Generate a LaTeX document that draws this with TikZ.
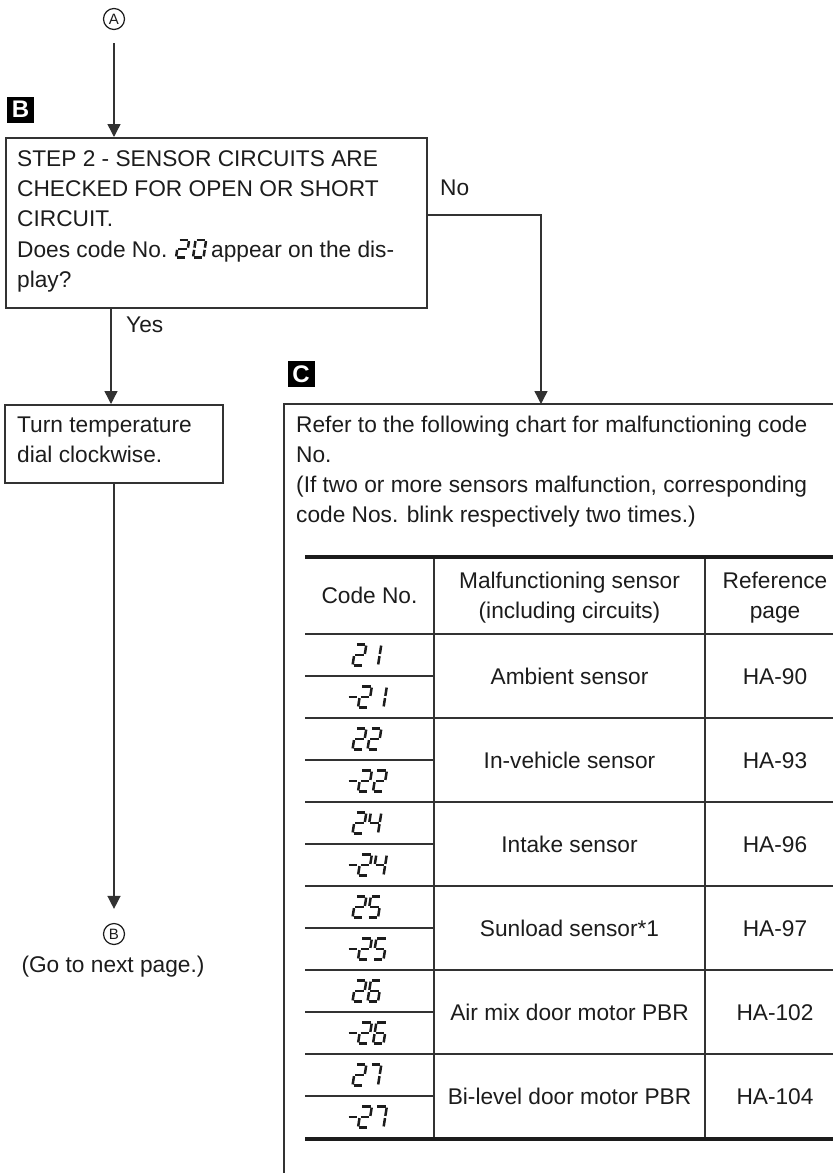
\documentclass[tikz,border=0pt]{standalone}
\usepackage{fontspec}
\setmainfont{Liberation Sans}
\usetikzlibrary{arrows.meta}
\definecolor{ink}{RGB}{28,28,28}
\definecolor{rulec}{RGB}{50,50,50}

\tikzset{
 txt/.style={inner sep=0pt, anchor=base west, text=ink, font=\fontsize{22.7}{27}\selectfont},
 ctxt/.style={txt, anchor=base},
 boxline/.style={draw=rulec, line width=1.6pt, inner sep=0pt},
 arr/.style={draw=rulec, line width=1.4pt, -{Triangle[width=13pt,length=13pt]}},
 tline/.style={draw=rulec, line width=1.3pt},
 trule/.style={draw=ink, line width=3.6pt},
 lcdline/.style={draw=ink, line width=2.5pt},
 marker/.style={fill=black, text=white, inner sep=0pt, minimum width=27pt, minimum height=26pt, font=\fontsize{24}{24}\selectfont\bfseries},
 circ/.style={circle, draw=ink, line width=1.2pt, minimum size=21pt, inner sep=0pt, font=\fontsize{15}{15}\selectfont, text=ink},
}

% seven-segment digits
\def\lcdw{10}\def\lcdh{21}\def\lcdp{15}\def\lcdg{1.1}\def\lcds{0.17}
\newcommand\lcdparams[4]{\def\lcdw{#1}\def\lcdh{#2}\def\lcdp{#3}\def\lcds{#4}}
\newcommand\lcdA{\draw[lcdline] (\lcdg,\lcdh)--({\lcdw-\lcdg},\lcdh);}
\newcommand\lcdB{\draw[lcdline] (\lcdw,{\lcdh-\lcdg})--(\lcdw,{\lcdh/2+\lcdg});}
\newcommand\lcdC{\draw[lcdline] (\lcdw,{\lcdh/2-\lcdg})--(\lcdw,\lcdg);}
\newcommand\lcdD{\draw[lcdline] (\lcdg,0)--({\lcdw-\lcdg},0);}
\newcommand\lcdE{\draw[lcdline] (0,\lcdg)--(0,{\lcdh/2-\lcdg});}
\newcommand\lcdF{\draw[lcdline] (0,{\lcdh/2+\lcdg})--(0,{\lcdh-\lcdg});}
\newcommand\lcdG{\draw[lcdline] (\lcdg,{\lcdh/2})--({\lcdw-\lcdg},{\lcdh/2});}
\newcommand\lcddigit[1]{\ifcase#1\relax
 \lcdA\lcdB\lcdC\lcdD\lcdE\lcdF\or
 \lcdB\lcdC\or
 \lcdA\lcdB\lcdG\lcdE\lcdD\or
 \lcdA\lcdB\lcdG\lcdC\lcdD\or
 \lcdF\lcdG\lcdB\lcdC\or
 \lcdA\lcdF\lcdG\lcdC\lcdD\or
 \lcdA\lcdF\lcdG\lcdE\lcdC\lcdD\or
 \lcdA\lcdB\lcdC\fi}
\newcommand\lcdat[4]{%
 \begin{scope}[shift={(#1,{#2})}, x=1pt, y=1pt, xslant=\lcds]
  \ifnum#4=1 \draw[lcdline] (-11,{\lcdh/2})--(-2.5,{\lcdh/2});\fi
  \foreach \lcdd [count=\lcdi from 0] in {#3}{%
   \begin{scope}[xshift=\lcdi*\lcdp]\lcddigit{\lcdd}\end{scope}}
 \end{scope}}

\begin{document}
\begin{tikzpicture}[x=1pt,y=-1pt]
\useasboundingbox (0,0) rectangle (833,1173);

% connector A and marker B
\node[circ] (A) at (114,19) {A};
\node[marker] (mB) at (20.5,109.5) {B};

% step 2 box
\node[boxline, minimum width=421pt, minimum height=170pt, anchor=north west] (step) at (5,137) {};
\node[txt] (st1) at (17,166) {STEP 2 - SENSOR CIRCUITS ARE};
\node[txt] (st2) at (17,196) {CHECKED FOR OPEN OR SHORT};
\node[txt] (st3) at (17,226) {CIRCUIT.};
\node[txt] (st4) at (17,257) {Does code No.};
\lcdparams{10.5}{17.5}{17}{0.15}
\lcdat{176}{257.5}{2,0}{0}
\node[txt] (st4b) at (211,257) {appear on the dis-};
\node[txt] (st5) at (17,287) {play?};

\draw[arr, shorten <=13pt] (A.south) -- (A.south |- step.north);

% yes branch
\node[txt] (yeslab) at (126,332) {Yes};
\node[boxline, minimum width=218pt, minimum height=78pt, anchor=north west] (turn) at (4,404) {};
\node[txt] (tu1) at (17,432) {Turn temperature};
\node[txt] (tu2) at (17,462) {dial clockwise.};
\coordinate (yx) at (111,0);
\draw[arr] (step.south -| yx) -- (turn.north -| yx);

\node[circ] (B) at (114,934) {B};
\node[ctxt] (gonext) at (113,972) {(Go to next page.)};
\draw[arr, shorten >=14pt] (turn.south -| B.north) -- (B.north);

% no branch
\node[txt] (nolab) at (440,195) {No};
\node[marker] (mC) at (301,374) {C};
\node[inner sep=0pt, minimum width=549pt, minimum height=769pt, anchor=north west] (chart) at (284,404) {};
\draw[boxline] (chart.south west) -- (chart.north west) -- (chart.north east);
\coordinate (nox) at (541,0);
\draw[arr] ([yshift=8pt]step.east) -| (nox |- chart.north);

\node[txt] (ch1) at (296,432) {Refer to the following chart for malfunctioning code};
\node[txt] (ch2) at (296,462) {No.};
\node[txt] (ch3) at (296,492) {(If two or more sensors malfunction, corresponding};
\node[txt] (ch4) at (296,522) {code Nos. blink respectively two times.)};

% table
\foreach \k in {0,...,5} {
  \draw[tline] (305,{634+84*\k}) -- (833,{634+84*\k});
  \draw[tline] (305,{676+84*\k}) -- (434,{676+84*\k});
}
\draw[tline] (434,557) -- (434,1139);
\draw[tline] (705,557) -- (705,1139);
\draw[trule] (305,557) -- (833,557);
\draw[trule] (305,1139) -- (833,1139);

\node[ctxt] (h1) at (369.5,603.5) {Code No.};
\node[ctxt] (h2a) at (569.5,588) {Malfunctioning sensor};
\node[ctxt] (h2b) at (569.5,618) {(including circuits)};
\node[ctxt] (h3a) at (775,588) {Reference};
\node[ctxt] (h3b) at (775,618) {page};

\foreach \nm/\pg [count=\k from 0] in {Ambient sensor/HA-90, In-vehicle sensor/HA-93, Intake sensor/HA-96, Sunload sensor*1/HA-97, Air mix door motor PBR/HA-102, Bi-level door motor PBR/HA-104} {
  \node[ctxt] (sen\k) at (569.5,{684+84*\k}) {\nm};
  \node[ctxt] (pg\k) at (775,{684+84*\k}) {\pg};
}

\lcdparams{10.5}{21}{15}{0.16}
\foreach \dg [count=\k from 0] in {1,2,4,5,6,7} {
  \lcdat{352.5}{665.5+84*\k}{2,\dg}{0}
  \lcdat{358}{707.5+84*\k}{2,\dg}{1}
}
\end{tikzpicture}
\end{document}
